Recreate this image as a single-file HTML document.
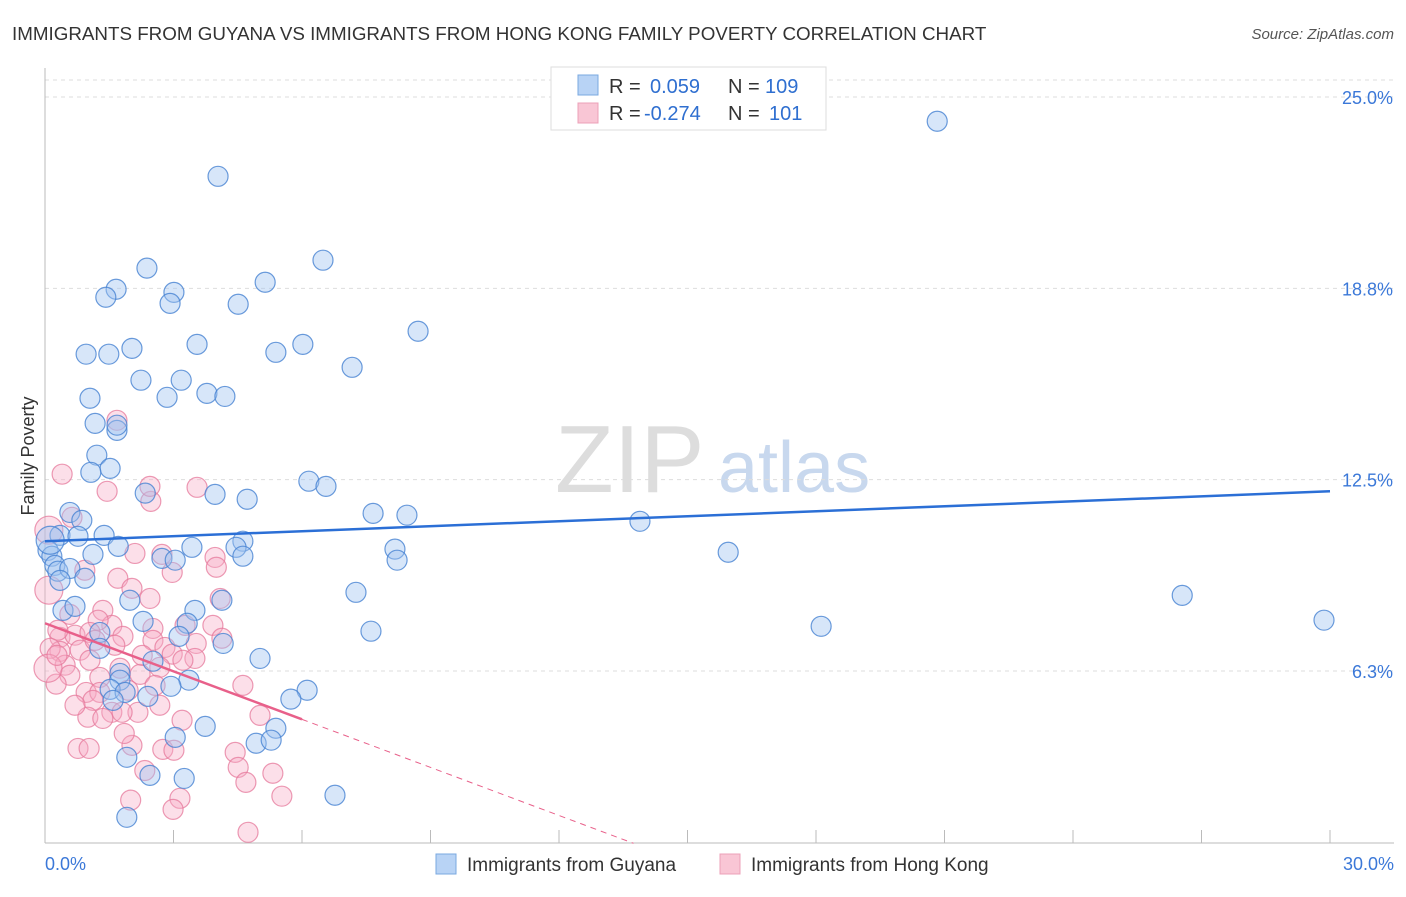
<!DOCTYPE html>
<html><head><meta charset="utf-8"><style>
body{margin:0;background:#fff;font-family:"Liberation Sans",sans-serif}
svg text{font-family:"Liberation Sans",sans-serif}
</style></head><body>
<svg id="c" width="1406" height="892" xmlns="http://www.w3.org/2000/svg">
<text x="12" y="40" font-size="18.8" fill="#333">IMMIGRANTS FROM GUYANA VS IMMIGRANTS FROM HONG KONG FAMILY POVERTY CORRELATION CHART</text>
<text x="1394" y="39" font-size="15" fill="#555" font-style="italic" text-anchor="end">Source: ZipAtlas.com</text>
<text x="555" y="492" font-size="96" fill="#ddd" font-family="Liberation Serif">ZIP</text>
<text x="718" y="492" font-size="72" fill="#c8d8ee">atlas</text>
<text x="34" y="456" font-size="18" fill="#333" transform="rotate(-90 34 456)" text-anchor="middle">Family Poverty</text>
<g id="grid"></g><g id="axes"></g><g id="pts"></g><g id="lines"></g>
<g>
<rect x="551" y="67" width="275" height="63" fill="#fff" stroke="#ddd"/>
<rect x="578" y="75" width="20" height="20" fill="#b8d3f5" stroke="#7aa8e0"/>
<rect x="578" y="103" width="20" height="20" fill="#f9c6d5" stroke="#eca0b8"/>
<text x="609" y="93" font-size="20" fill="#333">R = <tspan fill="#2f6fd0" x="650">0.059</tspan><tspan x="728" fill="#333">N = </tspan><tspan fill="#2f6fd0" x="765">109</tspan></text>
<text x="609" y="120" font-size="20" fill="#333">R = <tspan fill="#2f6fd0" x="644">-0.274</tspan><tspan x="728" fill="#333">N = </tspan><tspan fill="#2f6fd0" x="769">101</tspan></text>
</g>
<g>
<rect x="436" y="854" width="20" height="20" fill="#b8d3f5" stroke="#7aa8e0"/>
<text x="467" y="871" font-size="19" fill="#333">Immigrants from Guyana</text>
<rect x="720" y="854" width="20" height="20" fill="#f9c6d5" stroke="#eca0b8"/>
<text x="751" y="871" font-size="19" fill="#333">Immigrants from Hong Kong</text>
</g>
</svg>
<script>
const yTicks=[25,18.75,12.5,6.25];
const yTickLabels=["25.0%","18.8%","12.5%","6.3%"];
const xTickLabels=["0.0%","30.0%"];
const blueX=[20.83,4.04,6.49,2.38,5.14,1.66,3.01,1.42,2.92,4.51,8.71,3.55,2.03,6.02,0.96,1.49,5.39,7.17,2.24,3.18,1.05,2.85,3.78,4.2,1.17,1.68,1.68,1.21,1.52,1.07,6.16,6.56,3.97,4.72,2.34,0.58,0.86,7.66,8.45,13.89,0.35,0.77,1.38,4.62,1.71,4.46,8.17,15.95,0.07,0.16,1.12,3.43,2.73,3.04,4.62,8.22,0.23,0.3,0.58,0.93,0.35,7.26,1.98,4.13,26.55,0.42,0.7,3.5,2.29,3.32,18.12,29.86,7.61,1.28,3.13,4.16,1.28,5.02,2.52,1.75,3.36,1.75,2.94,6.12,5.74,1.52,1.87,2.4,1.59,3.74,5.39,3.04,4.93,5.28,1.91,2.45,3.25,6.77,1.91,0.12];
const blueY=[24.21,22.41,19.67,19.41,18.95,18.72,18.62,18.46,18.26,18.23,17.35,16.92,16.79,16.92,16.6,16.6,16.66,16.17,15.75,15.75,15.16,15.19,15.32,15.22,14.34,14.11,14.28,13.3,12.87,12.74,12.45,12.28,12.02,11.86,12.06,11.43,11.17,11.4,11.34,11.14,10.68,10.65,10.68,10.49,10.32,10.29,10.23,10.13,10.19,10.0,10.06,10.29,9.93,9.87,10.0,9.87,9.7,9.51,9.6,9.28,9.21,8.82,8.56,8.56,8.72,8.23,8.36,8.23,7.87,7.81,7.71,7.91,7.55,7.51,7.38,7.15,6.99,6.66,6.57,6.17,5.95,5.95,5.75,5.62,5.33,5.65,5.55,5.42,5.29,4.44,4.38,4.08,3.89,3.99,3.43,2.84,2.74,2.19,1.47,10.52];
const pinkX=[0.4,1.45,2.47,3.55,2.45,1.68,0.63,2.1,2.73,3.97,4.0,2.97,0.93,1.7,2.03,2.45,4.09,0.09,0.09,1.35,1.56,0.58,1.24,2.52,3.27,3.92,1.82,2.52,0.35,0.7,1.05,0.35,0.82,2.8,3.53,4.13,0.47,1.05,1.75,2.97,3.5,3.22,0.58,0.26,1.28,2.22,2.68,0.96,1.28,1.94,2.57,1.12,1.56,2.17,2.68,1.0,1.35,1.8,4.62,3.2,2.03,0.77,1.03,1.85,2.75,3.01,5.02,4.44,4.51,4.69,5.32,2.33,5.53,2.0,3.15,2.99,4.74,0.3,0.12,0.07,0.7,1.17,1.63,2.27,0.28];
const pinkY=[12.68,12.12,11.79,12.25,12.28,14.44,11.27,10.09,10.06,9.96,9.64,9.47,9.54,9.28,8.95,8.62,8.62,8.89,10.85,8.23,7.74,8.1,7.91,7.64,7.74,7.74,7.38,7.25,7.35,7.42,7.51,6.89,6.93,7.02,7.15,7.32,6.44,6.6,6.34,6.8,6.66,6.6,6.11,5.82,6.04,6.14,6.37,5.55,5.55,5.62,5.78,5.29,4.9,4.9,5.13,4.74,4.7,4.9,5.78,4.64,3.82,3.72,3.72,4.21,3.69,3.66,4.8,3.59,3.1,2.61,2.91,3.0,2.16,2.03,2.09,1.73,0.98,7.58,6.99,6.34,5.13,7.25,7.09,6.76,6.76];
const blueFit=[10.49,12.12];
const pinkFit=[7.81,4.67];
const NS="http://www.w3.org/2000/svg";
const X=v=>45+v*1285/30, Y=v=>862.3-v*30.61;
function mk(t,a,p){const e=document.createElementNS(NS,t);for(const k in a)e.setAttribute(k,a[k]);document.getElementById(p).appendChild(e);return e;}
yTicks.forEach((t,i)=>{
 const g=mk('line',{x1:45,x2:1394,y1:Y(t),y2:Y(t),stroke:'#ddd','stroke-dasharray':'4,4'},'grid');
 
 
 const l=mk('text',{x:1393,y:Y(t)+7,'font-size':18,fill:'#3b78d8','text-anchor':'end'},'grid');
 l.textContent=yTickLabels[i];
 
 
});
const tg=mk('line',{x1:45,x2:1394,y1:80,y2:80,stroke:'#ddd','stroke-dasharray':'4,4'},'grid');


const ax=mk('line',{x1:45,x2:1394,y1:843,y2:843,stroke:'#bbb'},'axes');


const ay=mk('line',{x1:45,x2:45,y1:68,y2:843,stroke:'#bbb'},'axes');


for(let i=1;i<=10;i++){const t=mk('line',{x1:X(i*3),x2:X(i*3),y1:830,y2:843,stroke:'#bbb'},'axes');
 
 }
[[0,'start',45],[1,'end',1394]].forEach(([i,a,x])=>{const t=mk('text',{x:x,y:870,'font-size':18,fill:'#3b78d8','text-anchor':a},'axes');t.textContent=xTickLabels[i];
 
 });
pinkX.forEach((v,i)=>{const c=mk('circle',{cx:X(v),cy:Y(pinkY[i]),r:(v<0.1?14:10),fill:'rgba(246,170,196,0.38)',stroke:'rgba(230,120,155,0.75)','stroke-width':1.2},'pts');
 
 });
blueX.forEach((v,i)=>{const c=mk('circle',{cx:X(v),cy:Y(blueY[i]),r:(i==blueX.length-1?14:10),fill:'rgba(160,196,240,0.42)',stroke:'rgba(70,130,210,0.8)','stroke-width':1.2},'pts');
 
 });
const bl=mk('line',{x1:X(0),y1:Y(blueFit[0]),x2:X(30),y2:Y(blueFit[1]),stroke:'#2b6fd6','stroke-width':2.5},'lines');


const s=(pinkFit[1]-pinkFit[0])/6, xe=(0.62-pinkFit[0])/s;
const pl=mk('line',{x1:X(0),y1:Y(pinkFit[0]),x2:X(6),y2:Y(pinkFit[1]),stroke:'#e8608a','stroke-width':2.5},'lines');


const pd=mk('line',{x1:X(6),y1:Y(pinkFit[1]),x2:X(xe),y2:Y(0.62),stroke:'#e8608a','stroke-width':1,'stroke-dasharray':'6,5'},'lines');


</script>
</body></html>
